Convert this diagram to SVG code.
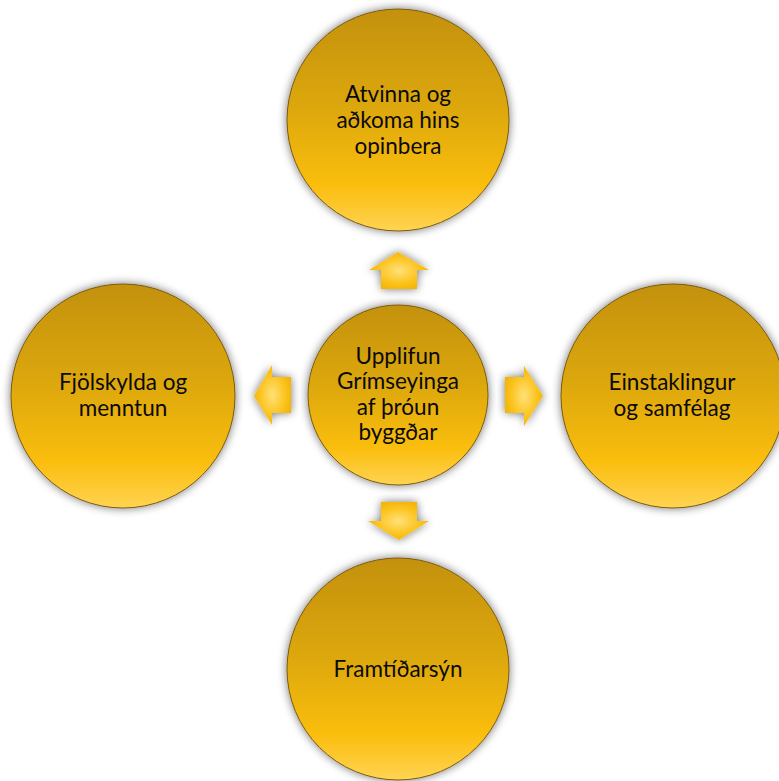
<svg xmlns="http://www.w3.org/2000/svg" width="779" height="781" viewBox="0 0 779 781">
<defs>
<linearGradient id="gFill" x1="0" y1="0" x2="0" y2="1">
<stop offset="0" stop-color="#C3910A"/>
<stop offset="0.45" stop-color="#DDA80D"/>
<stop offset="0.8" stop-color="#FBBE10"/>
<stop offset="1" stop-color="#FFD452"/>
</linearGradient>
<radialGradient id="gArrow" cx="0.5" cy="0.5" r="0.6">
<stop offset="0" stop-color="#FFE17A"/>
<stop offset="0.6" stop-color="#FBC21A"/>
<stop offset="1" stop-color="#EFB000"/>
</radialGradient>
<filter id="shadow" x="-20%" y="-20%" width="140%" height="140%">
<feGaussianBlur in="SourceAlpha" stdDeviation="5"/>
<feOffset dx="0" dy="0" result="b"/>
<feComponentTransfer><feFuncA type="linear" slope="0.55"/></feComponentTransfer>
<feMerge><feMergeNode/><feMergeNode in="SourceGraphic"/></feMerge>
</filter>
</defs>
<style>
.node{fill:url(#gFill);stroke:#7A5A12;stroke-width:1;filter:url(#shadow)}
.arr{fill:url(#gArrow);filter:url(#shadow)}
.t{font-family:Lato,"Open Sans","Liberation Sans",sans-serif;font-size:22.5px;fill:#0a0a0a;text-anchor:middle}
</style>
<rect width="779" height="781" fill="#ffffff"/>
<g id="connectors">
<path class="arr" d="M398,252 L429,270 L417,270 L417,289 L381,289 L381,270 L369,270 Z"/>
<path class="arr" d="M399,540 L429,521 L417,521 L417,502 L381,502 L381,521 L368,521 Z"/>
<path class="arr" d="M254,396 L272,365 L272,377 L291,377 L291,413 L272,413 L272,425 Z"/>
<path class="arr" d="M543,396 L524,366 L524,377 L505,377 L505,413 L524,413 L524,426 Z"/>
</g>
<g id="node-center">
<circle class="node" cx="398" cy="395" r="90"/>
<text class="t" x="398" y="364">Upplifun</text>
<text class="t" x="398" y="389">Grímseyinga</text>
<text class="t" x="398" y="415">af þróun</text>
<text class="t" x="398" y="440">byggðar</text>
</g>
<g id="node-top">
<circle class="node" cx="398" cy="120" r="111"/>
<text class="t" x="398" y="102">Atvinna og</text>
<text class="t" x="398" y="128">aðkoma hins</text>
<text class="t" x="398" y="154">opinbera</text>
</g>
<g id="node-left">
<circle class="node" cx="123" cy="396" r="112"/>
<text class="t" x="123" y="390">Fjölskylda og</text>
<text class="t" x="123" y="416">menntun</text>
</g>
<g id="node-right">
<circle class="node" cx="673" cy="396" r="112"/>
<text class="t" x="672" y="390">Einstaklingur</text>
<text class="t" x="672" y="416">og samfélag</text>
</g>
<g id="node-bottom">
<circle class="node" cx="398" cy="669" r="111"/>
<text class="t" x="398" y="677">Framtíðarsýn</text>
</g>
</svg>
